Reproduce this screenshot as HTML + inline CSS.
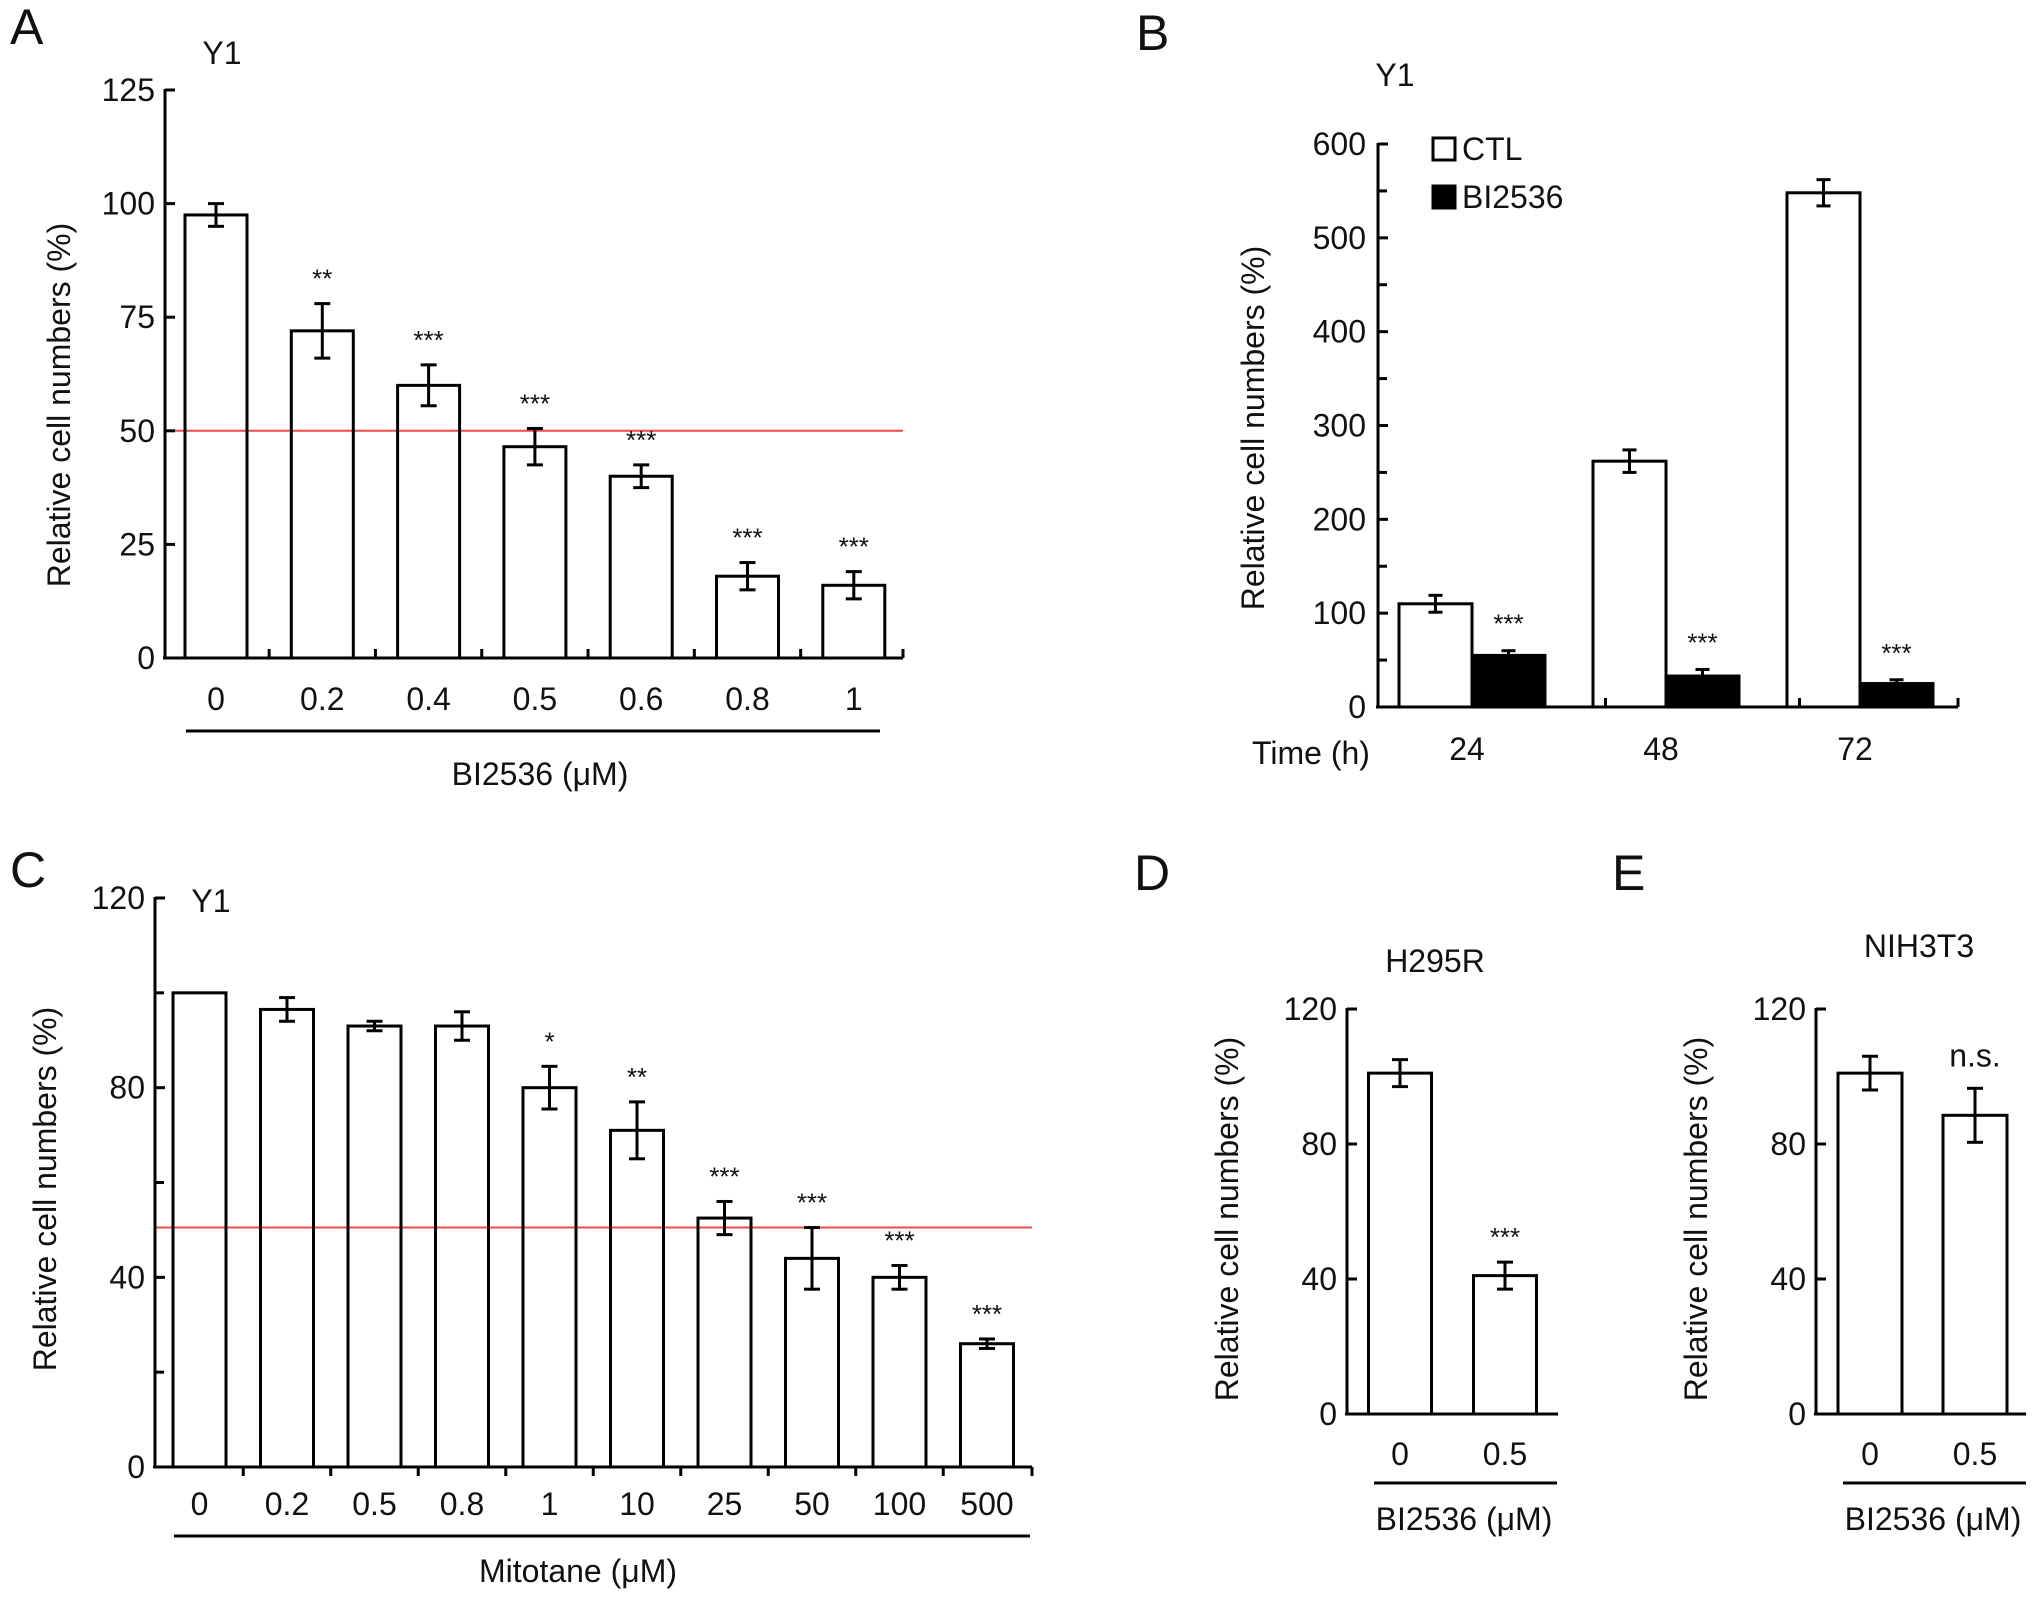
<!DOCTYPE html>
<html><head><meta charset="utf-8">
<style>
html,body{margin:0;padding:0;background:#fff;}
svg{display:block;font-family:"Liberation Sans",Arial,sans-serif;}
</style></head>
<body>
<svg id="fig" width="2032" height="1598" viewBox="0 0 2032 1598" xmlns="http://www.w3.org/2000/svg"></svg>
<script>
// Panel A data
const aCats = ["0","0.2","0.4","0.5","0.6","0.8","1"];
const aVals = [97.5,72,60,46.5,40,18,16];
const aErrs = [2.5,6,4.5,4,2.5,3,3];
const aStars = ["","**","***","***","***","***","***"];
const aTicks = [0,25,50,75,100,125];
// Panel B data
const bCats = ["24","48","72"];
const bCtl = [110,262,548];
const bCtlErr = [9,12,14];
const bBi = [55,33,25];
const bBiErr = [5,7,4];
const bTicks = [0,100,200,300,400,500,600];
// Panel C data
const cCats = ["0","0.2","0.5","0.8","1","10","25","50","100","500"];
const cVals = [100,96.5,93,93,80,71,52.5,44,40,26];
const cErrs = [0,2.5,1,3,4.5,6,3.5,6.5,2.5,1];
const cStars = ["","","","","*","**","***","***","***","***"];
const cTicks = [0,40,80,120];
// Panel D data
const dCats = ["0","0.5"];
const dVals = [101,41];
const dErrs = [4,4];
const dStars = ["","***"];
// Panel E data
const eCats = ["0","0.5"];
const eVals = [101,88.5];
const eErrs = [5,8];
const eStars = ["","n.s."];
const deTicks = [0,40,80,120];

const svg = document.getElementById('fig');
const NS = "http://www.w3.org/2000/svg";
const FS = 32;
function mk(tag, attrs, parent){
  const e = document.createElementNS(NS, tag);
  for (const k in attrs) e.setAttribute(k, attrs[k]);
  (parent||svg).appendChild(e);
  return e;
}
function txt(x,y,s,size,anchor,name,parent,extra){
  const t = mk('text',{x:x,y:y,'font-size':size,'text-anchor':anchor||'middle',fill:'#111'},parent);
  t.textContent = s;
  
  
  if (extra) for (const k in extra) t.setAttribute(k, extra[k]);
  return t;
}
function line(x1,y1,x2,y2,w,col,parent){
  return mk('line',{x1:x1,y1:y1,x2:x2,y2:y2,stroke:col||'#000','stroke-width':w||3},parent);
}
function errbar(g,cx,yTop,yBot,cap){
  line(cx,yTop,cx,yBot,3,'#000',g);
  line(cx-cap,yTop,cx+cap,yTop,3,'#000',g);
  line(cx-cap,yBot,cx+cap,yBot,3,'#000',g);
}

function panel(o){
  const g = mk('g',{});
  
  
  const ys = v => o.y0 - (v - o.ymin)/(o.ymax - o.ymin)*(o.y0 - o.ytop);
  const n = o.cats.length;
  const pitch = o.pitch;
  const xc = i => o.first + pitch*i;
  if (o.refLine!=null){
    const r = line(o.xAxis, ys(o.refLine), o.xEnd, ys(o.refLine), 2, '#f04a4a', g);
    
    
  }
  o.vals.forEach((v,i)=>{
    const b = mk('rect',{x:xc(i)-o.bw/2,y:ys(v),width:o.bw,height:o.y0-ys(v),fill:'none',stroke:'#000','stroke-width':3},g);
    
    
    if (o.errs[i]>0) errbar(g,xc(i),ys(v+o.errs[i]),ys(v-o.errs[i]),8);
    if (o.stars[i]) {
      const ns = o.stars[i]==='n.s.';
      txt(xc(i), ys(v+o.errs[i]) - (ns?22:16), o.stars[i], ns?32:26, 'middle','significance-mark',g);
    }
    txt(xc(i), o.labY, o.cats[i], FS, 'middle', 'x-tick-label', g);
  });
  const ya = line(o.xAxis, o.ytop-1, o.xAxis, o.y0+1.5, 3, '#000', g);
  
  
  const xa = line(o.xAxis-2, o.y0, o.xEnd, o.y0, 3, '#000', g);
  
  
  o.ticks.forEach(t=>{
    line(o.xAxis, ys(t), o.xAxis+10, ys(t), 3, '#000', g);
    txt(o.xAxis-10, ys(t)+11, String(t), FS, 'end', 'y-tick-label', g);
  });
  (o.minor||[]).forEach(t=>{ line(o.xAxis, ys(t), o.xAxis+9, ys(t), 3, '#000', g); });
  if (o.xticks){
    const d = o.tickUp ? -9 : 9;
    for (let i=1;i<n;i++){
      const x = o.first + pitch*(i-0.5);
      line(x, o.y0, x, o.y0+d, 3, '#000', g);
    }
    line(o.xEnd, o.y0, o.xEnd, o.y0+(o.tickUp?-9:9), 3, '#000', g);
  }
  txt(o.ytX, o.ytY, 'Relative cell numbers (%)', FS, 'middle', 'y-axis-title', g, {transform:'rotate(-90 '+o.ytX+' '+o.ytY+')'});
  if (o.ul){
    const u = line(o.ul[0], o.ul[2], o.ul[1], o.ul[2], 3, '#000', g);
    
    
  }
  if (o.xt) txt(o.xt[0], o.xt[1], o.xt[2], FS, 'middle', 'x-axis-title', g);
  if (o.cell) txt(o.cell[0], o.cell[1], o.cell[2], FS, 'middle', 'cell-line-title', g);
  if (o.letter) txt(o.letter[0], o.letter[1], o.letter[2], 50, 'start', 'panel-letter', g);
  return g;
}

// Panel A
panel({name:'panel-a', cats:aCats, vals:aVals, errs:aErrs, stars:aStars, ticks:aTicks,
  ymin:0, ymax:125, y0:658, ytop:90, xAxis:165, xEnd:903, first:216, pitch:106.3, bw:62,
  labY:710, refLine:50, xticks:true, tickUp:true, ytX:70, ytY:405,
  ul:[186,880,731], xt:[540,785,'BI2536 (\u03BCM)'], cell:[222,64,'Y1'], letter:[10,44,'A']});

// Panel C
panel({name:'panel-c', cats:cCats, vals:cVals, errs:cErrs, stars:cStars, ticks:cTicks, minor:[20,60,100],
  ymin:0, ymax:120, y0:1467, ytop:898, xAxis:155, xEnd:1032, first:199.5, pitch:87.5, bw:53,
  labY:1515, refLine:50.5, xticks:true, tickUp:false, ytX:56, ytY:1189,
  ul:[174,1030,1536], xt:[578,1582,'Mitotane (\u03BCM)'], cell:[211,912,'Y1'], letter:[10,887,'C']});

// Panel D
panel({name:'panel-d', cats:dCats, vals:dVals, errs:dErrs, stars:dStars, ticks:deTicks,
  ymin:0, ymax:120, y0:1414, ytop:1009, xAxis:1347, xEnd:1558, first:1400, pitch:105, bw:63,
  labY:1465, xticks:false, ytX:1238, ytY:1219,
  ul:[1374,1557,1483], xt:[1464,1530,'BI2536 (\u03BCM)'], cell:[1435,972,'H295R'], letter:[1134,890,'D']});

// Panel E
panel({name:'panel-e', cats:eCats, vals:eVals, errs:eErrs, stars:eStars, ticks:deTicks,
  ymin:0, ymax:120, y0:1414, ytop:1009, xAxis:1816, xEnd:2026, first:1870, pitch:105, bw:64,
  labY:1465, xticks:false, ytX:1707, ytY:1219,
  ul:[1843,2026,1483], xt:[1933,1530,'BI2536 (\u03BCM)'], cell:[1919,957,'NIH3T3'], letter:[1612,890,'E']});

// Panel B (grouped)
(function(){
  const g = mk('g',{});
  
  
  const xAxis=1378, xEnd=1958, y0=707, ytop=144, ymax=600;
  const ys = v => y0 - v/ymax*(y0-ytop);
  const pitch = 194, first = 1472, bw = 73;
  bCats.forEach((c,i)=>{
    const cx = first + pitch*i;
    const r1 = mk('rect',{x:cx-bw,y:ys(bCtl[i]),width:bw,height:y0-ys(bCtl[i]),fill:'#fff',stroke:'#000','stroke-width':3},g);
    
    
    errbar(g,cx-bw/2,ys(bCtl[i]+bCtlErr[i]),ys(bCtl[i]-bCtlErr[i]),7);
    const r2 = mk('rect',{x:cx,y:ys(bBi[i]),width:bw,height:y0-ys(bBi[i]),fill:'#000',stroke:'#000','stroke-width':3},g);
    
    
    errbar(g,cx+bw/2,ys(bBi[i]+bBiErr[i]),ys(bBi[i]-bBiErr[i]),7);
    txt(cx+bw/2, ys(bBi[i]+bBiErr[i])-18, '***', 26, 'middle', 'significance-mark', g);
    txt(cx-5, 760, c, FS, 'middle', 'x-tick-label', g);
    if (i>0) line(cx-pitch/2+bw/2, y0, cx-pitch/2+bw/2, y0-9, 3, '#000', g);
  });
  line(xEnd, y0, xEnd, y0-9, 3, '#000', g);
  const ya = line(xAxis, ytop-1, xAxis, y0+1.5, 3, '#000', g);
  
  
  const xa = line(xAxis-2, y0, xEnd, y0, 3, '#000', g);
  
  
  bTicks.forEach(t=>{
    line(xAxis, ys(t), xAxis+10, ys(t), 3, '#000', g);
    txt(xAxis-12, ys(t)+11, String(t), FS, 'end', 'y-tick-label', g);
    if (t<600) line(xAxis, ys(t+50), xAxis+9, ys(t+50), 3, '#000', g);
  });
  txt(1264, 428, 'Relative cell numbers (%)', FS, 'middle', 'y-axis-title', g, {transform:'rotate(-90 1264 428)'});
  txt(1252, 764, 'Time (h)', FS, 'start', 'x-axis-title', g);
  txt(1395, 86, 'Y1', FS, 'middle', 'cell-line-title', g);
  txt(1136, 50, 'B', 50, 'start', 'panel-letter', g);
  const lg = mk('g',{},g);
  
  
  const s1 = mk('rect',{x:1433,y:138,width:22,height:22,fill:'#fff',stroke:'#000','stroke-width':3},lg);
  
  
  txt(1462, 160, 'CTL', FS, 'start', 'legend-label-ctl', lg);
  const s2 = mk('rect',{x:1433,y:186,width:22,height:22,fill:'#000',stroke:'#000','stroke-width':3},lg);
  
  
  txt(1462, 208, 'BI2536', FS, 'start', 'legend-label-bi2536', lg);
})();
</script>
</body></html>
